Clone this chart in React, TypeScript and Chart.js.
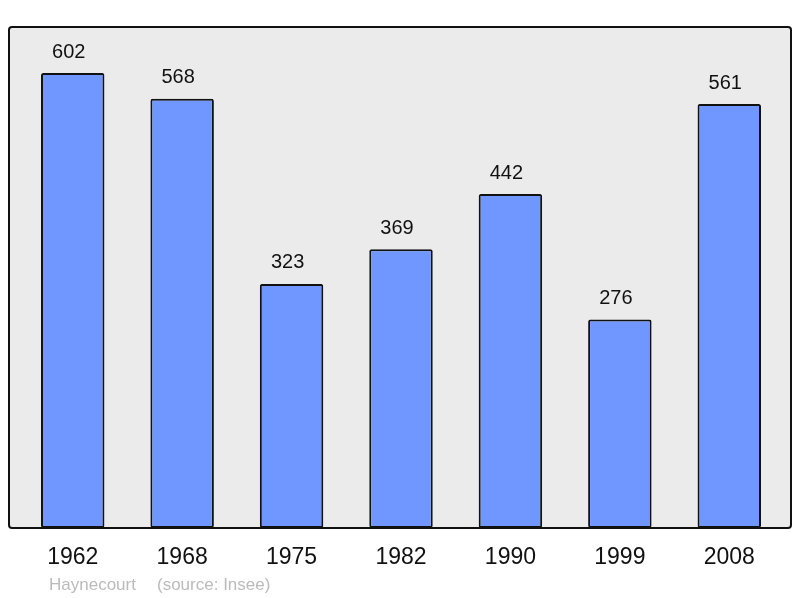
import { useEffect, useRef } from 'react';
import { Chart, registerables, type ChartConfiguration, type Plugin } from 'chart.js';

Chart.register(...registerables);

const years = ['1962', '1968', '1975', '1982', '1990', '1999', '2008'];
const population = [602, 568, 323, 369, 442, 276, 561];
const footerName = 'Haynecourt';
const footerSource = '(source: Insee)';

const FONT = '"Liberation Sans", Arial, sans-serif';

// grey rounded panel behind the bars, a bit wider than the chart area
const panelPlugin: Plugin<'bar'> = {
  id: 'panel',
  beforeDraw(chart) {
    const { ctx, chartArea: a } = chart;
    ctx.save();
    ctx.beginPath();
    ctx.roundRect(a.left - 9, a.top, a.right - a.left + 16, a.bottom - a.top, 3);
    ctx.fillStyle = '#ebebeb';
    ctx.fill();
    ctx.restore();
  },
  afterDatasetsDraw(chart) {
    const { ctx, chartArea: a } = chart;
    ctx.save();
    ctx.beginPath();
    ctx.roundRect(a.left - 9, a.top, a.right - a.left + 16, a.bottom - a.top, 3);
    ctx.lineWidth = 2;
    ctx.strokeStyle = '#111';
    ctx.stroke();
    ctx.restore();
  },
};

// value labels above bars + footer line
const labelPlugin: Plugin<'bar'> = {
  id: 'labels',
  afterDraw(chart) {
    const { ctx, chartArea: a } = chart;
    const meta = chart.getDatasetMeta(0);
    ctx.save();
    ctx.font = `20px ${FONT}`;
    ctx.fillStyle = '#111';
    ctx.textAlign = 'center';
    ctx.textBaseline = 'middle';
    meta.data.forEach((bar, i) => {
      ctx.fillText(String(population[i]), bar.x - 4, bar.y - 21);
    });
    ctx.font = `17px ${FONT}`;
    ctx.fillStyle = '#bbbbbb';
    ctx.textAlign = 'left';
    ctx.fillText(footerName, a.left + 31, a.bottom + 57);
    ctx.fillText(footerSource, a.left + 139, a.bottom + 57);
    ctx.restore();
  },
};

export default function App() {
  const canvasRef = useRef<HTMLCanvasElement>(null);

  useEffect(() => {
    document.body.style.margin = '0';
    if (!canvasRef.current) return;

    const config: ChartConfiguration<'bar'> = {
      type: 'bar',
      data: {
        labels: years,
        datasets: [{
          data: population,
          backgroundColor: '#7097ff',
          borderColor: '#111',
          borderWidth: 2,
          borderRadius: 2,
          borderSkipped: false,
          barPercentage: 0.58,
          categoryPercentage: 1,
        }],
      },
      options: {
        animation: false,
        responsive: true,
        maintainAspectRatio: false,
        layout: { padding: { left: 18, right: 16, top: 27, bottom: 0 } },
        plugins: {
          legend: { display: false },
          tooltip: { enabled: false },
        },
        scales: {
          x: {
            grid: { display: false, drawTicks: false },
            border: { display: false },
            ticks: {
              color: '#111',
              font: { family: FONT, size: 23 },
              padding: 16,
              maxRotation: 0,
            },
            afterFit(scale) { scale.height = 70; },
          },
          y: {
            display: false,
            min: 0,
            max: 663,
          },
        },
      },
      plugins: [panelPlugin, labelPlugin],
    };

    const chart = new Chart(canvasRef.current, config);
    return () => { chart.destroy(); };
  }, []);

  return (
    <div style={{ position: 'relative', width: 800, height: 598 }}>
      <canvas ref={canvasRef} role="img" aria-label="Population de Haynecourt" />
    </div>
  );
}
